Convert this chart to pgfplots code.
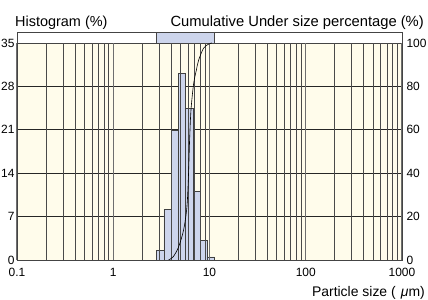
\documentclass[border=0pt]{standalone}
\usepackage{pgfplots}
\pgfplotsset{compat=1.18}
\usepackage{fontspec}
\setmainfont{Liberation Sans}
\definecolor{cream}{HTML}{FFFCEB}
\definecolor{barblue}{HTML}{CDD5EC}
\definecolor{framegray}{HTML}{444444}
\definecolor{gridgray}{HTML}{4A4A4A}
\begin{document}
\begin{tikzpicture}
\useasboundingbox (-17bp,-40bp) rectangle (411bp,260bp);
\begin{axis}[
  name=main, at={(0,0)}, anchor=south west,
  scale only axis, width=385bp, height=217bp,
  xmode=log, xmin=0.1, xmax=1000, ymin=0, ymax=35,
  xtick={0.1,1,10,100,1000}, xticklabels={0.1,1,10,100,1000},
  ytick={0,7,14,21,28,35}, yticklabels={0,7,14,21,28,35},
  major tick length=0pt, minor tick length=0pt,
  ymajorgrids, major grid style={draw=black!85, line width=0.7pt},
  axis background/.style={fill=cream},
  axis line style={draw=framegray, line width=0.8pt},
  tick label style={font=\fontsize{12}{12}\selectfont},
  yticklabel style={xshift=1bp},
  xticklabel style={yshift=-5bp},
  clip=false,
]
\addplot[ybar interval, fill=barblue, draw=black!75, line width=0.7pt] coordinates {
 (2.828,1.5) (3.364,8.2) (4.0,20.9) (4.757,30.1) (5.657,24.5) (6.727,11.1) (8.0,3.2) (9.514,0.5) (11.31,0)
};
% range strip above the plot
\addplot[fill=barblue, draw=framegray, line width=0.7pt] coordinates {
 (2.828,35) (11.31,35) (11.31,36.77) (2.828,36.77)
} -- cycle;
\end{axis}
\begin{axis}[
  at={(0,0)}, anchor=south west,
  scale only axis, width=385bp, height=217bp,
  xmode=log, xmin=0.1, xmax=1000, ymin=0, ymax=100,
  xtick={0.1,1,10,100,1000}, xticklabels={},
  axis x line*=bottom, axis y line*=right,
  x axis line style={draw=none},
  ytick={0,20,40,60,80,100}, yticklabels={0,20,40,60,80,100},
  major tick length=0pt, minor tick length=0pt,
  xminorgrids, xmajorgrids,
  minor grid style={draw=gridgray, line width=0.7pt},
  major grid style={draw=gridgray!80, line width=1.4pt},
  y axis line style={draw=framegray, line width=0.8pt},
  tick label style={font=\fontsize{12}{12}\selectfont},
  yticklabel style={xshift=1bp},
]
\addplot[black, line width=0.6pt, smooth, tension=0.5] coordinates {
 (3.75,0) (4.2,1.5) (4.77,6) (5.38,13.8) (5.83,24.6) (6.06,40) (6.21,55) (6.42,69) (6.83,81) (7.3,87.5) (7.7,92) (8.67,97.6) (9.8,99.5) (10.6,100)
};
\end{axis}
\draw[framegray, line width=0.8pt] (0,0) rectangle (385bp,228bp);
\node[anchor=base west, inner sep=0pt, font=\fontsize{14.5}{14.5}\selectfont] at (-2bp,233bp) {Histogram (\%)};
\node[anchor=base east, inner sep=0pt, font=\fontsize{14.8}{14.8}\selectfont] at (407bp,233bp) {Cumulative Under size percentage (\%)};
\node[anchor=base east, inner sep=0pt, font=\fontsize{14}{14}\selectfont] at (408bp,-36bp) {Particle size\hspace{4bp}(\hspace{5bp}\textit{μ}m)};
\end{tikzpicture}
\end{document}
